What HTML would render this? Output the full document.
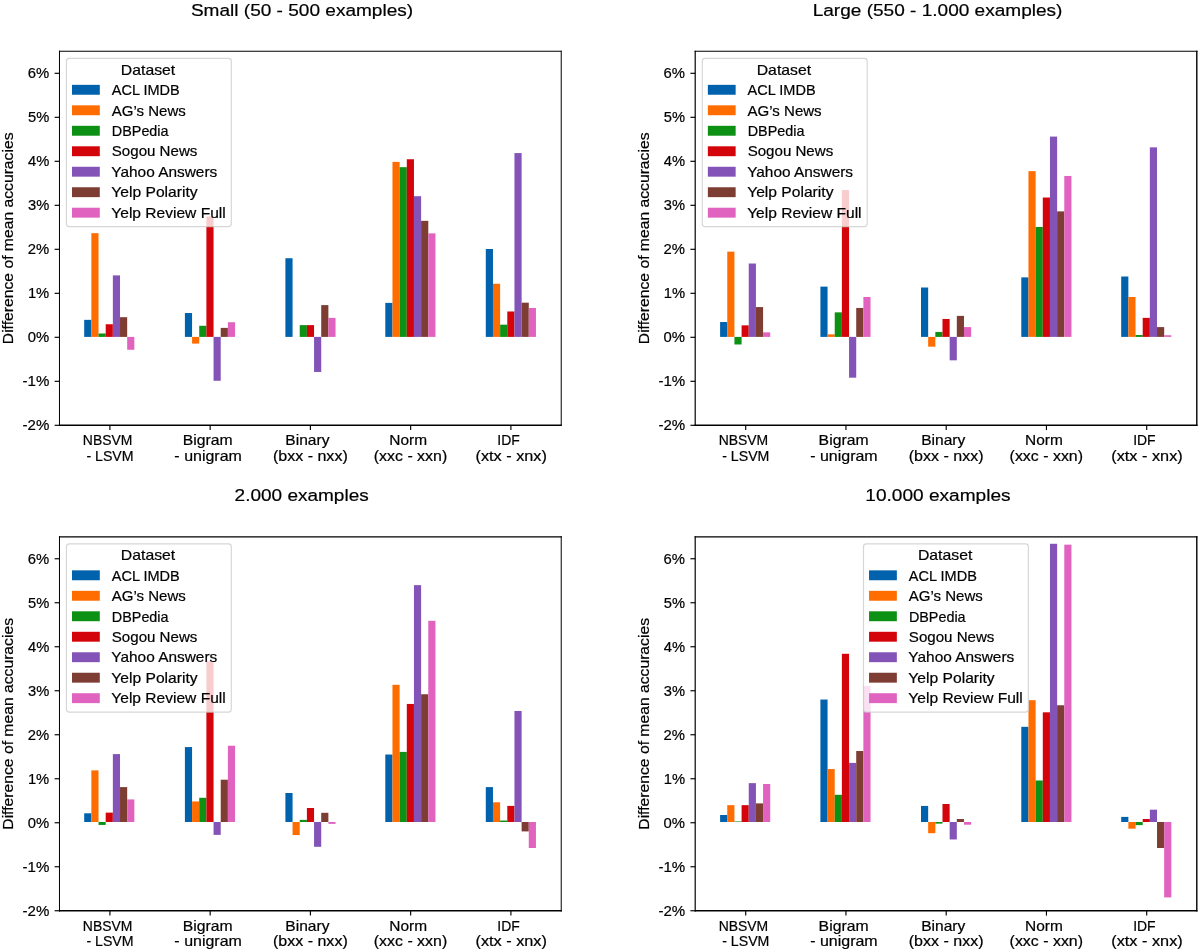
<!DOCTYPE html>
<html><head><meta charset="utf-8"><title>Mean accuracy differences</title>
<style>
html,body{margin:0;padding:0;background:#fff;}
svg{display:block;}
svg{will-change:transform;}
text{font-family:"Liberation Sans",sans-serif;fill:#000;stroke:#000;stroke-width:0.2px;}
</style></head>
<body>
<svg width="1200" height="952" viewBox="0 0 1200 952">
<rect width="1200" height="952" fill="#fff"/>
<rect x="84.20" y="319.84" width="7.164" height="17.06" fill="#0062ac"/>
<rect x="91.36" y="233.16" width="7.164" height="103.74" fill="#ff6d00"/>
<rect x="98.53" y="333.48" width="7.164" height="3.42" fill="#0c9114"/>
<rect x="105.69" y="324.24" width="7.164" height="12.66" fill="#d4050a"/>
<rect x="112.86" y="275.40" width="7.164" height="61.50" fill="#8453b7"/>
<rect x="120.02" y="317.20" width="7.164" height="19.70" fill="#7d3d32"/>
<rect x="127.18" y="336.90" width="7.164" height="12.86" fill="#e063bf"/>
<rect x="184.90" y="313.02" width="7.164" height="23.88" fill="#0062ac"/>
<rect x="192.06" y="336.90" width="7.164" height="6.70" fill="#ff6d00"/>
<rect x="199.23" y="325.78" width="7.164" height="11.12" fill="#0c9114"/>
<rect x="206.39" y="216.44" width="7.164" height="120.46" fill="#d4050a"/>
<rect x="213.56" y="336.90" width="7.164" height="43.88" fill="#8453b7"/>
<rect x="220.72" y="327.89" width="7.164" height="9.01" fill="#7d3d32"/>
<rect x="227.88" y="322.22" width="7.164" height="14.68" fill="#e063bf"/>
<rect x="285.40" y="258.24" width="7.164" height="78.66" fill="#0062ac"/>
<rect x="299.73" y="325.12" width="7.164" height="11.78" fill="#0c9114"/>
<rect x="306.89" y="325.12" width="7.164" height="11.78" fill="#d4050a"/>
<rect x="314.06" y="336.90" width="7.164" height="35.08" fill="#8453b7"/>
<rect x="321.22" y="305.10" width="7.164" height="31.80" fill="#7d3d32"/>
<rect x="328.38" y="317.90" width="7.164" height="19.00" fill="#e063bf"/>
<rect x="385.30" y="302.90" width="7.164" height="34.00" fill="#0062ac"/>
<rect x="392.46" y="161.88" width="7.164" height="175.02" fill="#ff6d00"/>
<rect x="399.63" y="167.16" width="7.164" height="169.74" fill="#0c9114"/>
<rect x="406.79" y="159.24" width="7.164" height="177.66" fill="#d4050a"/>
<rect x="413.96" y="196.20" width="7.164" height="140.70" fill="#8453b7"/>
<rect x="421.12" y="220.84" width="7.164" height="116.06" fill="#7d3d32"/>
<rect x="428.28" y="233.38" width="7.164" height="103.52" fill="#e063bf"/>
<rect x="485.80" y="249.00" width="7.164" height="87.90" fill="#0062ac"/>
<rect x="492.96" y="283.76" width="7.164" height="53.14" fill="#ff6d00"/>
<rect x="500.13" y="324.68" width="7.164" height="12.22" fill="#0c9114"/>
<rect x="507.29" y="311.48" width="7.164" height="25.42" fill="#d4050a"/>
<rect x="514.46" y="153.08" width="7.164" height="183.82" fill="#8453b7"/>
<rect x="521.62" y="302.68" width="7.164" height="34.22" fill="#7d3d32"/>
<rect x="528.78" y="307.96" width="7.164" height="28.94" fill="#e063bf"/>
<path d="M58.97,51.25H561.73" fill="none" stroke="#000" stroke-width="1.13"/>
<path d="M58.97,425.25H561.73" fill="none" stroke="#000" stroke-width="1.4"/>
<path d="M59.47,50.69V425.95" fill="none" stroke="#000" stroke-width="1.0"/>
<path d="M561.23,50.69V425.95" fill="none" stroke="#000" stroke-width="1.0"/>
<line x1="54.60" y1="425.30" x2="59.50" y2="425.30" stroke="#000" stroke-width="1.15"/>
<text x="22.60" y="430.05" font-size="14.4" textLength="26.76" lengthAdjust="spacingAndGlyphs">-2%</text>
<line x1="54.60" y1="381.30" x2="59.50" y2="381.30" stroke="#000" stroke-width="1.15"/>
<text x="22.60" y="386.05" font-size="14.4" textLength="26.76" lengthAdjust="spacingAndGlyphs">-1%</text>
<line x1="54.60" y1="337.30" x2="59.50" y2="337.30" stroke="#000" stroke-width="1.15"/>
<text x="27.83" y="342.05" font-size="14.4" textLength="21.44" lengthAdjust="spacingAndGlyphs">0%</text>
<line x1="54.60" y1="293.30" x2="59.50" y2="293.30" stroke="#000" stroke-width="1.15"/>
<text x="27.92" y="298.05" font-size="14.4" textLength="21.35" lengthAdjust="spacingAndGlyphs">1%</text>
<line x1="54.60" y1="249.30" x2="59.50" y2="249.30" stroke="#000" stroke-width="1.15"/>
<text x="27.83" y="254.05" font-size="14.4" textLength="21.45" lengthAdjust="spacingAndGlyphs">2%</text>
<line x1="54.60" y1="205.30" x2="59.50" y2="205.30" stroke="#000" stroke-width="1.15"/>
<text x="28.04" y="210.05" font-size="14.4" textLength="21.23" lengthAdjust="spacingAndGlyphs">3%</text>
<line x1="54.60" y1="161.30" x2="59.50" y2="161.30" stroke="#000" stroke-width="1.15"/>
<text x="27.94" y="166.05" font-size="14.4" textLength="21.33" lengthAdjust="spacingAndGlyphs">4%</text>
<line x1="54.60" y1="117.30" x2="59.50" y2="117.30" stroke="#000" stroke-width="1.15"/>
<text x="28.04" y="122.05" font-size="14.4" textLength="21.23" lengthAdjust="spacingAndGlyphs">5%</text>
<line x1="54.60" y1="73.30" x2="59.50" y2="73.30" stroke="#000" stroke-width="1.15"/>
<text x="27.83" y="78.05" font-size="14.4" textLength="21.45" lengthAdjust="spacingAndGlyphs">6%</text>
<line x1="109.90" y1="425.20" x2="109.90" y2="430.10" stroke="#000" stroke-width="1.15"/>
<text x="82.84" y="445.30" font-size="14.4" textLength="49.53" lengthAdjust="spacingAndGlyphs">NBSVM</text>
<text x="86.41" y="460.60" font-size="14.4" textLength="47.18" lengthAdjust="spacingAndGlyphs">- LSVM</text>
<line x1="210.15" y1="425.20" x2="210.15" y2="430.10" stroke="#000" stroke-width="1.15"/>
<text x="182.84" y="445.30" font-size="14.4" textLength="49.92" lengthAdjust="spacingAndGlyphs">Bigram</text>
<text x="174.38" y="460.60" font-size="14.4" textLength="67.51" lengthAdjust="spacingAndGlyphs">- unigram</text>
<line x1="310.40" y1="425.20" x2="310.40" y2="430.10" stroke="#000" stroke-width="1.15"/>
<text x="285.35" y="445.30" font-size="14.4" textLength="44.12" lengthAdjust="spacingAndGlyphs">Binary</text>
<text x="272.95" y="460.60" font-size="14.4" textLength="74.81" lengthAdjust="spacingAndGlyphs">(bxx - nxx)</text>
<line x1="410.65" y1="425.20" x2="410.65" y2="430.10" stroke="#000" stroke-width="1.15"/>
<text x="389.31" y="445.30" font-size="14.4" textLength="37.76" lengthAdjust="spacingAndGlyphs">Norm</text>
<text x="373.81" y="460.60" font-size="14.4" textLength="73.39" lengthAdjust="spacingAndGlyphs">(xxc - xxn)</text>
<line x1="510.90" y1="425.20" x2="510.90" y2="430.10" stroke="#000" stroke-width="1.15"/>
<text x="497.34" y="445.30" font-size="14.4" textLength="22.44" lengthAdjust="spacingAndGlyphs">IDF</text>
<text x="475.48" y="460.60" font-size="14.4" textLength="71.43" lengthAdjust="spacingAndGlyphs">(xtx - xnx)</text>
<text x="190.92" y="15.75" font-size="17.4" textLength="222.25" lengthAdjust="spacingAndGlyphs">Small (50 - 500 examples)</text>
<text transform="rotate(-90)" x="-344.21" y="13.30" font-size="14.4" textLength="211.71" lengthAdjust="spacingAndGlyphs">Difference of mean accuracies</text>
<rect x="66.45" y="58.40" width="164.85" height="168.20" rx="2.8" ry="2.8" fill="#fff" fill-opacity="0.8" stroke="#ccc" stroke-opacity="0.8" stroke-width="1.15"/>
<text x="120.89" y="74.50" font-size="14.4" textLength="54.36" lengthAdjust="spacingAndGlyphs">Dataset</text>
<rect x="72.00" y="84.85" width="27.8" height="9.9" fill="#0062ac"/>
<text x="111.75" y="95.05" font-size="14.4" textLength="68.04" lengthAdjust="spacingAndGlyphs">ACL IMDB</text>
<rect x="72.00" y="105.33" width="27.8" height="9.9" fill="#ff6d00"/>
<text x="111.75" y="115.53" font-size="14.4" textLength="74.03" lengthAdjust="spacingAndGlyphs">AG’s News</text>
<rect x="72.00" y="125.81" width="27.8" height="9.9" fill="#0c9114"/>
<text x="111.85" y="136.01" font-size="14.4" textLength="56.69" lengthAdjust="spacingAndGlyphs">DBPedia</text>
<rect x="72.00" y="146.29" width="27.8" height="9.9" fill="#d4050a"/>
<text x="111.82" y="156.49" font-size="14.4" textLength="85.55" lengthAdjust="spacingAndGlyphs">Sogou News</text>
<rect x="72.00" y="166.77" width="27.8" height="9.9" fill="#8453b7"/>
<text x="111.33" y="176.97" font-size="14.4" textLength="105.91" lengthAdjust="spacingAndGlyphs">Yahoo Answers</text>
<rect x="72.00" y="187.25" width="27.8" height="9.9" fill="#7d3d32"/>
<text x="111.32" y="197.45" font-size="14.4" textLength="86.30" lengthAdjust="spacingAndGlyphs">Yelp Polarity</text>
<rect x="72.00" y="207.73" width="27.8" height="9.9" fill="#e063bf"/>
<text x="111.33" y="217.93" font-size="14.4" textLength="114.39" lengthAdjust="spacingAndGlyphs">Yelp Review Full</text>
<rect x="720.10" y="322.04" width="7.164" height="14.86" fill="#0062ac"/>
<rect x="727.26" y="251.64" width="7.164" height="85.26" fill="#ff6d00"/>
<rect x="734.43" y="336.90" width="7.164" height="7.58" fill="#0c9114"/>
<rect x="741.59" y="325.34" width="7.164" height="11.56" fill="#d4050a"/>
<rect x="748.76" y="263.52" width="7.164" height="73.38" fill="#8453b7"/>
<rect x="755.92" y="307.08" width="7.164" height="29.82" fill="#7d3d32"/>
<rect x="763.08" y="332.38" width="7.164" height="4.52" fill="#e063bf"/>
<rect x="820.40" y="286.62" width="7.164" height="50.28" fill="#0062ac"/>
<rect x="827.56" y="334.36" width="7.164" height="2.54" fill="#ff6d00"/>
<rect x="834.73" y="312.36" width="7.164" height="24.54" fill="#0c9114"/>
<rect x="841.89" y="190.04" width="7.164" height="146.86" fill="#d4050a"/>
<rect x="849.06" y="336.90" width="7.164" height="40.80" fill="#8453b7"/>
<rect x="856.22" y="307.96" width="7.164" height="28.94" fill="#7d3d32"/>
<rect x="863.38" y="296.96" width="7.164" height="39.94" fill="#e063bf"/>
<rect x="921.00" y="287.50" width="7.164" height="49.40" fill="#0062ac"/>
<rect x="928.16" y="336.90" width="7.164" height="9.78" fill="#ff6d00"/>
<rect x="935.33" y="331.94" width="7.164" height="4.96" fill="#0c9114"/>
<rect x="942.49" y="318.96" width="7.164" height="17.94" fill="#d4050a"/>
<rect x="949.66" y="336.90" width="7.164" height="23.42" fill="#8453b7"/>
<rect x="956.82" y="315.88" width="7.164" height="21.02" fill="#7d3d32"/>
<rect x="963.98" y="327.10" width="7.164" height="9.80" fill="#e063bf"/>
<rect x="1021.30" y="277.38" width="7.164" height="59.52" fill="#0062ac"/>
<rect x="1028.46" y="171.12" width="7.164" height="165.78" fill="#ff6d00"/>
<rect x="1035.63" y="227.00" width="7.164" height="109.90" fill="#0c9114"/>
<rect x="1042.79" y="197.52" width="7.164" height="139.38" fill="#d4050a"/>
<rect x="1049.96" y="136.58" width="7.164" height="200.32" fill="#8453b7"/>
<rect x="1057.12" y="211.38" width="7.164" height="125.52" fill="#7d3d32"/>
<rect x="1064.28" y="175.96" width="7.164" height="160.94" fill="#e063bf"/>
<rect x="1121.20" y="276.50" width="7.164" height="60.40" fill="#0062ac"/>
<rect x="1128.36" y="296.96" width="7.164" height="39.94" fill="#ff6d00"/>
<rect x="1135.53" y="335.02" width="7.164" height="1.88" fill="#0c9114"/>
<rect x="1142.69" y="317.86" width="7.164" height="19.04" fill="#d4050a"/>
<rect x="1149.86" y="147.36" width="7.164" height="189.54" fill="#8453b7"/>
<rect x="1157.02" y="327.10" width="7.164" height="9.80" fill="#7d3d32"/>
<rect x="1164.18" y="335.24" width="7.164" height="1.66" fill="#e063bf"/>
<path d="M694.61,51.25H1197.49" fill="none" stroke="#000" stroke-width="1.13"/>
<path d="M694.61,425.25H1197.49" fill="none" stroke="#000" stroke-width="1.4"/>
<path d="M695.20,50.69V425.95" fill="none" stroke="#000" stroke-width="1.19"/>
<path d="M1196.79,50.69V425.95" fill="none" stroke="#000" stroke-width="1.4"/>
<line x1="690.40" y1="425.30" x2="695.30" y2="425.30" stroke="#000" stroke-width="1.15"/>
<text x="658.40" y="430.05" font-size="14.4" textLength="26.76" lengthAdjust="spacingAndGlyphs">-2%</text>
<line x1="690.40" y1="381.30" x2="695.30" y2="381.30" stroke="#000" stroke-width="1.15"/>
<text x="658.40" y="386.05" font-size="14.4" textLength="26.76" lengthAdjust="spacingAndGlyphs">-1%</text>
<line x1="690.40" y1="337.30" x2="695.30" y2="337.30" stroke="#000" stroke-width="1.15"/>
<text x="663.63" y="342.05" font-size="14.4" textLength="21.44" lengthAdjust="spacingAndGlyphs">0%</text>
<line x1="690.40" y1="293.30" x2="695.30" y2="293.30" stroke="#000" stroke-width="1.15"/>
<text x="663.72" y="298.05" font-size="14.4" textLength="21.35" lengthAdjust="spacingAndGlyphs">1%</text>
<line x1="690.40" y1="249.30" x2="695.30" y2="249.30" stroke="#000" stroke-width="1.15"/>
<text x="663.63" y="254.05" font-size="14.4" textLength="21.45" lengthAdjust="spacingAndGlyphs">2%</text>
<line x1="690.40" y1="205.30" x2="695.30" y2="205.30" stroke="#000" stroke-width="1.15"/>
<text x="663.84" y="210.05" font-size="14.4" textLength="21.23" lengthAdjust="spacingAndGlyphs">3%</text>
<line x1="690.40" y1="161.30" x2="695.30" y2="161.30" stroke="#000" stroke-width="1.15"/>
<text x="663.74" y="166.05" font-size="14.4" textLength="21.33" lengthAdjust="spacingAndGlyphs">4%</text>
<line x1="690.40" y1="117.30" x2="695.30" y2="117.30" stroke="#000" stroke-width="1.15"/>
<text x="663.84" y="122.05" font-size="14.4" textLength="21.23" lengthAdjust="spacingAndGlyphs">5%</text>
<line x1="690.40" y1="73.30" x2="695.30" y2="73.30" stroke="#000" stroke-width="1.15"/>
<text x="663.63" y="78.05" font-size="14.4" textLength="21.45" lengthAdjust="spacingAndGlyphs">6%</text>
<line x1="745.70" y1="425.20" x2="745.70" y2="430.10" stroke="#000" stroke-width="1.15"/>
<text x="718.64" y="445.30" font-size="14.4" textLength="49.53" lengthAdjust="spacingAndGlyphs">NBSVM</text>
<text x="722.21" y="460.60" font-size="14.4" textLength="47.18" lengthAdjust="spacingAndGlyphs">- LSVM</text>
<line x1="845.95" y1="425.20" x2="845.95" y2="430.10" stroke="#000" stroke-width="1.15"/>
<text x="818.64" y="445.30" font-size="14.4" textLength="49.92" lengthAdjust="spacingAndGlyphs">Bigram</text>
<text x="810.18" y="460.60" font-size="14.4" textLength="67.51" lengthAdjust="spacingAndGlyphs">- unigram</text>
<line x1="946.20" y1="425.20" x2="946.20" y2="430.10" stroke="#000" stroke-width="1.15"/>
<text x="921.15" y="445.30" font-size="14.4" textLength="44.12" lengthAdjust="spacingAndGlyphs">Binary</text>
<text x="908.75" y="460.60" font-size="14.4" textLength="74.81" lengthAdjust="spacingAndGlyphs">(bxx - nxx)</text>
<line x1="1046.45" y1="425.20" x2="1046.45" y2="430.10" stroke="#000" stroke-width="1.15"/>
<text x="1025.11" y="445.30" font-size="14.4" textLength="37.76" lengthAdjust="spacingAndGlyphs">Norm</text>
<text x="1009.61" y="460.60" font-size="14.4" textLength="73.39" lengthAdjust="spacingAndGlyphs">(xxc - xxn)</text>
<line x1="1146.70" y1="425.20" x2="1146.70" y2="430.10" stroke="#000" stroke-width="1.15"/>
<text x="1133.14" y="445.30" font-size="14.4" textLength="22.44" lengthAdjust="spacingAndGlyphs">IDF</text>
<text x="1111.28" y="460.60" font-size="14.4" textLength="71.43" lengthAdjust="spacingAndGlyphs">(xtx - xnx)</text>
<text x="812.67" y="15.75" font-size="17.4" textLength="249.78" lengthAdjust="spacingAndGlyphs">Large (550 - 1.000 examples)</text>
<text transform="rotate(-90)" x="-344.21" y="649.10" font-size="14.4" textLength="211.71" lengthAdjust="spacingAndGlyphs">Difference of mean accuracies</text>
<rect x="702.30" y="58.40" width="164.85" height="168.20" rx="2.8" ry="2.8" fill="#fff" fill-opacity="0.8" stroke="#ccc" stroke-opacity="0.8" stroke-width="1.15"/>
<text x="756.74" y="74.50" font-size="14.4" textLength="54.36" lengthAdjust="spacingAndGlyphs">Dataset</text>
<rect x="707.85" y="84.85" width="27.8" height="9.9" fill="#0062ac"/>
<text x="747.60" y="95.05" font-size="14.4" textLength="68.04" lengthAdjust="spacingAndGlyphs">ACL IMDB</text>
<rect x="707.85" y="105.33" width="27.8" height="9.9" fill="#ff6d00"/>
<text x="747.60" y="115.53" font-size="14.4" textLength="74.03" lengthAdjust="spacingAndGlyphs">AG’s News</text>
<rect x="707.85" y="125.81" width="27.8" height="9.9" fill="#0c9114"/>
<text x="747.70" y="136.01" font-size="14.4" textLength="56.69" lengthAdjust="spacingAndGlyphs">DBPedia</text>
<rect x="707.85" y="146.29" width="27.8" height="9.9" fill="#d4050a"/>
<text x="747.67" y="156.49" font-size="14.4" textLength="85.56" lengthAdjust="spacingAndGlyphs">Sogou News</text>
<rect x="707.85" y="166.77" width="27.8" height="9.9" fill="#8453b7"/>
<text x="747.18" y="176.97" font-size="14.4" textLength="105.91" lengthAdjust="spacingAndGlyphs">Yahoo Answers</text>
<rect x="707.85" y="187.25" width="27.8" height="9.9" fill="#7d3d32"/>
<text x="747.17" y="197.45" font-size="14.4" textLength="86.30" lengthAdjust="spacingAndGlyphs">Yelp Polarity</text>
<rect x="707.85" y="207.73" width="27.8" height="9.9" fill="#e063bf"/>
<text x="747.18" y="217.93" font-size="14.4" textLength="114.39" lengthAdjust="spacingAndGlyphs">Yelp Review Full</text>
<rect x="84.20" y="813.28" width="7.164" height="8.72" fill="#0062ac"/>
<rect x="91.36" y="770.38" width="7.164" height="51.62" fill="#ff6d00"/>
<rect x="98.53" y="822.00" width="7.164" height="2.94" fill="#0c9114"/>
<rect x="105.69" y="812.62" width="7.164" height="9.38" fill="#d4050a"/>
<rect x="112.86" y="754.10" width="7.164" height="67.90" fill="#8453b7"/>
<rect x="120.02" y="787.10" width="7.164" height="34.90" fill="#7d3d32"/>
<rect x="127.18" y="799.42" width="7.164" height="22.58" fill="#e063bf"/>
<rect x="184.90" y="747.06" width="7.164" height="74.94" fill="#0062ac"/>
<rect x="192.06" y="801.44" width="7.164" height="20.56" fill="#ff6d00"/>
<rect x="199.23" y="797.79" width="7.164" height="24.21" fill="#0c9114"/>
<rect x="206.39" y="661.39" width="7.164" height="160.61" fill="#d4050a"/>
<rect x="213.56" y="822.00" width="7.164" height="12.88" fill="#8453b7"/>
<rect x="220.72" y="779.71" width="7.164" height="42.29" fill="#7d3d32"/>
<rect x="227.88" y="745.74" width="7.164" height="76.26" fill="#e063bf"/>
<rect x="285.40" y="793.00" width="7.164" height="29.00" fill="#0062ac"/>
<rect x="292.56" y="822.00" width="7.164" height="13.06" fill="#ff6d00"/>
<rect x="299.73" y="819.88" width="7.164" height="2.12" fill="#0c9114"/>
<rect x="306.89" y="808.00" width="7.164" height="14.00" fill="#d4050a"/>
<rect x="314.06" y="822.00" width="7.164" height="24.81" fill="#8453b7"/>
<rect x="321.22" y="812.80" width="7.164" height="9.20" fill="#7d3d32"/>
<rect x="328.38" y="822.00" width="7.164" height="1.88" fill="#e063bf"/>
<rect x="385.30" y="754.54" width="7.164" height="67.46" fill="#0062ac"/>
<rect x="392.46" y="684.80" width="7.164" height="137.20" fill="#ff6d00"/>
<rect x="399.63" y="751.90" width="7.164" height="70.10" fill="#0c9114"/>
<rect x="406.79" y="703.94" width="7.164" height="118.06" fill="#d4050a"/>
<rect x="413.96" y="585.14" width="7.164" height="236.86" fill="#8453b7"/>
<rect x="421.12" y="694.26" width="7.164" height="127.74" fill="#7d3d32"/>
<rect x="428.28" y="620.78" width="7.164" height="201.22" fill="#e063bf"/>
<rect x="485.80" y="787.10" width="7.164" height="34.90" fill="#0062ac"/>
<rect x="492.96" y="802.28" width="7.164" height="19.72" fill="#ff6d00"/>
<rect x="500.13" y="820.54" width="7.164" height="1.46" fill="#0c9114"/>
<rect x="507.29" y="805.89" width="7.164" height="16.11" fill="#d4050a"/>
<rect x="514.46" y="710.98" width="7.164" height="111.02" fill="#8453b7"/>
<rect x="521.62" y="822.00" width="7.164" height="9.41" fill="#7d3d32"/>
<rect x="528.78" y="822.00" width="7.164" height="26.00" fill="#e063bf"/>
<path d="M58.97,536.80H561.73" fill="none" stroke="#000" stroke-width="1.3"/>
<path d="M58.97,910.80H561.73" fill="none" stroke="#000" stroke-width="1.6"/>
<path d="M59.47,536.15V911.60" fill="none" stroke="#000" stroke-width="1.0"/>
<path d="M561.23,536.15V911.60" fill="none" stroke="#000" stroke-width="1.0"/>
<line x1="54.60" y1="910.75" x2="59.50" y2="910.75" stroke="#000" stroke-width="1.15"/>
<text x="22.60" y="915.50" font-size="14.4" textLength="26.76" lengthAdjust="spacingAndGlyphs">-2%</text>
<line x1="54.60" y1="866.75" x2="59.50" y2="866.75" stroke="#000" stroke-width="1.15"/>
<text x="22.60" y="871.50" font-size="14.4" textLength="26.76" lengthAdjust="spacingAndGlyphs">-1%</text>
<line x1="54.60" y1="822.75" x2="59.50" y2="822.75" stroke="#000" stroke-width="1.15"/>
<text x="27.83" y="827.50" font-size="14.4" textLength="21.44" lengthAdjust="spacingAndGlyphs">0%</text>
<line x1="54.60" y1="778.75" x2="59.50" y2="778.75" stroke="#000" stroke-width="1.15"/>
<text x="27.92" y="783.50" font-size="14.4" textLength="21.35" lengthAdjust="spacingAndGlyphs">1%</text>
<line x1="54.60" y1="734.75" x2="59.50" y2="734.75" stroke="#000" stroke-width="1.15"/>
<text x="27.83" y="739.50" font-size="14.4" textLength="21.45" lengthAdjust="spacingAndGlyphs">2%</text>
<line x1="54.60" y1="690.75" x2="59.50" y2="690.75" stroke="#000" stroke-width="1.15"/>
<text x="28.04" y="695.50" font-size="14.4" textLength="21.23" lengthAdjust="spacingAndGlyphs">3%</text>
<line x1="54.60" y1="646.75" x2="59.50" y2="646.75" stroke="#000" stroke-width="1.15"/>
<text x="27.94" y="651.50" font-size="14.4" textLength="21.33" lengthAdjust="spacingAndGlyphs">4%</text>
<line x1="54.60" y1="602.75" x2="59.50" y2="602.75" stroke="#000" stroke-width="1.15"/>
<text x="28.04" y="607.50" font-size="14.4" textLength="21.23" lengthAdjust="spacingAndGlyphs">5%</text>
<line x1="54.60" y1="558.75" x2="59.50" y2="558.75" stroke="#000" stroke-width="1.15"/>
<text x="27.83" y="563.50" font-size="14.4" textLength="21.45" lengthAdjust="spacingAndGlyphs">6%</text>
<line x1="109.90" y1="910.70" x2="109.90" y2="915.60" stroke="#000" stroke-width="1.15"/>
<text x="82.84" y="930.80" font-size="14.4" textLength="49.53" lengthAdjust="spacingAndGlyphs">NBSVM</text>
<text x="86.41" y="946.10" font-size="14.4" textLength="47.18" lengthAdjust="spacingAndGlyphs">- LSVM</text>
<line x1="210.15" y1="910.70" x2="210.15" y2="915.60" stroke="#000" stroke-width="1.15"/>
<text x="182.84" y="930.80" font-size="14.4" textLength="49.92" lengthAdjust="spacingAndGlyphs">Bigram</text>
<text x="174.38" y="946.10" font-size="14.4" textLength="67.51" lengthAdjust="spacingAndGlyphs">- unigram</text>
<line x1="310.40" y1="910.70" x2="310.40" y2="915.60" stroke="#000" stroke-width="1.15"/>
<text x="285.35" y="930.80" font-size="14.4" textLength="44.12" lengthAdjust="spacingAndGlyphs">Binary</text>
<text x="272.95" y="946.10" font-size="14.4" textLength="74.81" lengthAdjust="spacingAndGlyphs">(bxx - nxx)</text>
<line x1="410.65" y1="910.70" x2="410.65" y2="915.60" stroke="#000" stroke-width="1.15"/>
<text x="389.31" y="930.80" font-size="14.4" textLength="37.76" lengthAdjust="spacingAndGlyphs">Norm</text>
<text x="373.81" y="946.10" font-size="14.4" textLength="73.39" lengthAdjust="spacingAndGlyphs">(xxc - xxn)</text>
<line x1="510.90" y1="910.70" x2="510.90" y2="915.60" stroke="#000" stroke-width="1.15"/>
<text x="497.34" y="930.80" font-size="14.4" textLength="22.44" lengthAdjust="spacingAndGlyphs">IDF</text>
<text x="475.48" y="946.10" font-size="14.4" textLength="71.43" lengthAdjust="spacingAndGlyphs">(xtx - xnx)</text>
<text x="234.62" y="501.00" font-size="17.4" textLength="134.08" lengthAdjust="spacingAndGlyphs">2.000 examples</text>
<text transform="rotate(-90)" x="-829.71" y="13.30" font-size="14.4" textLength="211.71" lengthAdjust="spacingAndGlyphs">Difference of mean accuracies</text>
<rect x="66.45" y="543.90" width="164.85" height="168.20" rx="2.8" ry="2.8" fill="#fff" fill-opacity="0.8" stroke="#ccc" stroke-opacity="0.8" stroke-width="1.15"/>
<text x="120.89" y="560.00" font-size="14.4" textLength="54.36" lengthAdjust="spacingAndGlyphs">Dataset</text>
<rect x="72.00" y="570.35" width="27.8" height="9.9" fill="#0062ac"/>
<text x="111.75" y="580.55" font-size="14.4" textLength="68.04" lengthAdjust="spacingAndGlyphs">ACL IMDB</text>
<rect x="72.00" y="590.83" width="27.8" height="9.9" fill="#ff6d00"/>
<text x="111.75" y="601.03" font-size="14.4" textLength="74.03" lengthAdjust="spacingAndGlyphs">AG’s News</text>
<rect x="72.00" y="611.31" width="27.8" height="9.9" fill="#0c9114"/>
<text x="111.85" y="621.51" font-size="14.4" textLength="56.69" lengthAdjust="spacingAndGlyphs">DBPedia</text>
<rect x="72.00" y="631.79" width="27.8" height="9.9" fill="#d4050a"/>
<text x="111.82" y="641.99" font-size="14.4" textLength="85.55" lengthAdjust="spacingAndGlyphs">Sogou News</text>
<rect x="72.00" y="652.27" width="27.8" height="9.9" fill="#8453b7"/>
<text x="111.33" y="662.47" font-size="14.4" textLength="105.91" lengthAdjust="spacingAndGlyphs">Yahoo Answers</text>
<rect x="72.00" y="672.75" width="27.8" height="9.9" fill="#7d3d32"/>
<text x="111.32" y="682.95" font-size="14.4" textLength="86.30" lengthAdjust="spacingAndGlyphs">Yelp Polarity</text>
<rect x="72.00" y="693.23" width="27.8" height="9.9" fill="#e063bf"/>
<text x="111.33" y="703.43" font-size="14.4" textLength="114.39" lengthAdjust="spacingAndGlyphs">Yelp Review Full</text>
<rect x="720.10" y="815.00" width="7.164" height="7.00" fill="#0062ac"/>
<rect x="727.26" y="805.14" width="7.164" height="16.86" fill="#ff6d00"/>
<rect x="734.43" y="821.42" width="7.164" height="0.58" fill="#0c9114"/>
<rect x="741.59" y="805.14" width="7.164" height="16.86" fill="#d4050a"/>
<rect x="748.76" y="783.14" width="7.164" height="38.86" fill="#8453b7"/>
<rect x="755.92" y="803.38" width="7.164" height="18.62" fill="#7d3d32"/>
<rect x="763.08" y="784.02" width="7.164" height="37.98" fill="#e063bf"/>
<rect x="820.40" y="699.54" width="7.164" height="122.46" fill="#0062ac"/>
<rect x="827.56" y="769.06" width="7.164" height="52.94" fill="#ff6d00"/>
<rect x="834.73" y="794.80" width="7.164" height="27.20" fill="#0c9114"/>
<rect x="841.89" y="653.78" width="7.164" height="168.22" fill="#d4050a"/>
<rect x="849.06" y="762.90" width="7.164" height="59.10" fill="#8453b7"/>
<rect x="856.22" y="751.02" width="7.164" height="70.98" fill="#7d3d32"/>
<rect x="863.38" y="686.03" width="7.164" height="135.97" fill="#e063bf"/>
<rect x="921.00" y="805.93" width="7.164" height="16.07" fill="#0062ac"/>
<rect x="928.16" y="822.00" width="7.164" height="11.21" fill="#ff6d00"/>
<rect x="935.33" y="822.00" width="7.164" height="1.62" fill="#0c9114"/>
<rect x="942.49" y="804.00" width="7.164" height="18.00" fill="#d4050a"/>
<rect x="949.66" y="822.00" width="7.164" height="17.46" fill="#8453b7"/>
<rect x="956.82" y="819.00" width="7.164" height="3.00" fill="#7d3d32"/>
<rect x="963.98" y="822.00" width="7.164" height="2.72" fill="#e063bf"/>
<rect x="1021.30" y="726.82" width="7.164" height="95.18" fill="#0062ac"/>
<rect x="1028.46" y="700.20" width="7.164" height="121.80" fill="#ff6d00"/>
<rect x="1035.63" y="780.50" width="7.164" height="41.50" fill="#0c9114"/>
<rect x="1042.79" y="712.30" width="7.164" height="109.70" fill="#d4050a"/>
<rect x="1049.96" y="543.78" width="7.164" height="278.22" fill="#8453b7"/>
<rect x="1057.12" y="705.26" width="7.164" height="116.74" fill="#7d3d32"/>
<rect x="1064.28" y="544.66" width="7.164" height="277.34" fill="#e063bf"/>
<rect x="1121.20" y="816.89" width="7.164" height="5.11" fill="#0062ac"/>
<rect x="1128.36" y="822.00" width="7.164" height="6.68" fill="#ff6d00"/>
<rect x="1135.53" y="822.00" width="7.164" height="3.12" fill="#0c9114"/>
<rect x="1142.69" y="819.00" width="7.164" height="3.00" fill="#d4050a"/>
<rect x="1149.86" y="809.67" width="7.164" height="12.33" fill="#8453b7"/>
<rect x="1157.02" y="822.00" width="7.164" height="26.00" fill="#7d3d32"/>
<rect x="1164.18" y="822.00" width="7.164" height="75.41" fill="#e063bf"/>
<path d="M694.61,536.80H1197.49" fill="none" stroke="#000" stroke-width="1.3"/>
<path d="M694.61,910.80H1197.49" fill="none" stroke="#000" stroke-width="1.6"/>
<path d="M695.20,536.15V911.60" fill="none" stroke="#000" stroke-width="1.19"/>
<path d="M1196.79,536.15V911.60" fill="none" stroke="#000" stroke-width="1.4"/>
<line x1="690.40" y1="910.75" x2="695.30" y2="910.75" stroke="#000" stroke-width="1.15"/>
<text x="658.40" y="915.50" font-size="14.4" textLength="26.76" lengthAdjust="spacingAndGlyphs">-2%</text>
<line x1="690.40" y1="866.75" x2="695.30" y2="866.75" stroke="#000" stroke-width="1.15"/>
<text x="658.40" y="871.50" font-size="14.4" textLength="26.76" lengthAdjust="spacingAndGlyphs">-1%</text>
<line x1="690.40" y1="822.75" x2="695.30" y2="822.75" stroke="#000" stroke-width="1.15"/>
<text x="663.63" y="827.50" font-size="14.4" textLength="21.44" lengthAdjust="spacingAndGlyphs">0%</text>
<line x1="690.40" y1="778.75" x2="695.30" y2="778.75" stroke="#000" stroke-width="1.15"/>
<text x="663.72" y="783.50" font-size="14.4" textLength="21.35" lengthAdjust="spacingAndGlyphs">1%</text>
<line x1="690.40" y1="734.75" x2="695.30" y2="734.75" stroke="#000" stroke-width="1.15"/>
<text x="663.63" y="739.50" font-size="14.4" textLength="21.45" lengthAdjust="spacingAndGlyphs">2%</text>
<line x1="690.40" y1="690.75" x2="695.30" y2="690.75" stroke="#000" stroke-width="1.15"/>
<text x="663.84" y="695.50" font-size="14.4" textLength="21.23" lengthAdjust="spacingAndGlyphs">3%</text>
<line x1="690.40" y1="646.75" x2="695.30" y2="646.75" stroke="#000" stroke-width="1.15"/>
<text x="663.74" y="651.50" font-size="14.4" textLength="21.33" lengthAdjust="spacingAndGlyphs">4%</text>
<line x1="690.40" y1="602.75" x2="695.30" y2="602.75" stroke="#000" stroke-width="1.15"/>
<text x="663.84" y="607.50" font-size="14.4" textLength="21.23" lengthAdjust="spacingAndGlyphs">5%</text>
<line x1="690.40" y1="558.75" x2="695.30" y2="558.75" stroke="#000" stroke-width="1.15"/>
<text x="663.63" y="563.50" font-size="14.4" textLength="21.45" lengthAdjust="spacingAndGlyphs">6%</text>
<line x1="745.70" y1="910.70" x2="745.70" y2="915.60" stroke="#000" stroke-width="1.15"/>
<text x="718.64" y="930.80" font-size="14.4" textLength="49.53" lengthAdjust="spacingAndGlyphs">NBSVM</text>
<text x="722.21" y="946.10" font-size="14.4" textLength="47.18" lengthAdjust="spacingAndGlyphs">- LSVM</text>
<line x1="845.95" y1="910.70" x2="845.95" y2="915.60" stroke="#000" stroke-width="1.15"/>
<text x="818.64" y="930.80" font-size="14.4" textLength="49.92" lengthAdjust="spacingAndGlyphs">Bigram</text>
<text x="810.18" y="946.10" font-size="14.4" textLength="67.51" lengthAdjust="spacingAndGlyphs">- unigram</text>
<line x1="946.20" y1="910.70" x2="946.20" y2="915.60" stroke="#000" stroke-width="1.15"/>
<text x="921.15" y="930.80" font-size="14.4" textLength="44.12" lengthAdjust="spacingAndGlyphs">Binary</text>
<text x="908.75" y="946.10" font-size="14.4" textLength="74.81" lengthAdjust="spacingAndGlyphs">(bxx - nxx)</text>
<line x1="1046.45" y1="910.70" x2="1046.45" y2="915.60" stroke="#000" stroke-width="1.15"/>
<text x="1025.11" y="930.80" font-size="14.4" textLength="37.76" lengthAdjust="spacingAndGlyphs">Norm</text>
<text x="1009.61" y="946.10" font-size="14.4" textLength="73.39" lengthAdjust="spacingAndGlyphs">(xxc - xxn)</text>
<line x1="1146.70" y1="910.70" x2="1146.70" y2="915.60" stroke="#000" stroke-width="1.15"/>
<text x="1133.14" y="930.80" font-size="14.4" textLength="22.44" lengthAdjust="spacingAndGlyphs">IDF</text>
<text x="1111.28" y="946.10" font-size="14.4" textLength="71.43" lengthAdjust="spacingAndGlyphs">(xtx - xnx)</text>
<text x="865.27" y="501.00" font-size="17.4" textLength="145.31" lengthAdjust="spacingAndGlyphs">10.000 examples</text>
<text transform="rotate(-90)" x="-829.71" y="649.10" font-size="14.4" textLength="211.71" lengthAdjust="spacingAndGlyphs">Difference of mean accuracies</text>
<rect x="863.50" y="543.90" width="164.85" height="168.20" rx="2.8" ry="2.8" fill="#fff" fill-opacity="0.8" stroke="#ccc" stroke-opacity="0.8" stroke-width="1.15"/>
<text x="917.94" y="560.00" font-size="14.4" textLength="54.36" lengthAdjust="spacingAndGlyphs">Dataset</text>
<rect x="869.05" y="570.35" width="27.8" height="9.9" fill="#0062ac"/>
<text x="908.80" y="580.55" font-size="14.4" textLength="68.04" lengthAdjust="spacingAndGlyphs">ACL IMDB</text>
<rect x="869.05" y="590.83" width="27.8" height="9.9" fill="#ff6d00"/>
<text x="908.80" y="601.03" font-size="14.4" textLength="74.03" lengthAdjust="spacingAndGlyphs">AG’s News</text>
<rect x="869.05" y="611.31" width="27.8" height="9.9" fill="#0c9114"/>
<text x="908.90" y="621.51" font-size="14.4" textLength="56.69" lengthAdjust="spacingAndGlyphs">DBPedia</text>
<rect x="869.05" y="631.79" width="27.8" height="9.9" fill="#d4050a"/>
<text x="908.87" y="641.99" font-size="14.4" textLength="85.56" lengthAdjust="spacingAndGlyphs">Sogou News</text>
<rect x="869.05" y="652.27" width="27.8" height="9.9" fill="#8453b7"/>
<text x="908.38" y="662.47" font-size="14.4" textLength="105.91" lengthAdjust="spacingAndGlyphs">Yahoo Answers</text>
<rect x="869.05" y="672.75" width="27.8" height="9.9" fill="#7d3d32"/>
<text x="908.37" y="682.95" font-size="14.4" textLength="86.30" lengthAdjust="spacingAndGlyphs">Yelp Polarity</text>
<rect x="869.05" y="693.23" width="27.8" height="9.9" fill="#e063bf"/>
<text x="908.38" y="703.43" font-size="14.4" textLength="114.39" lengthAdjust="spacingAndGlyphs">Yelp Review Full</text>
</svg>
</body></html>
